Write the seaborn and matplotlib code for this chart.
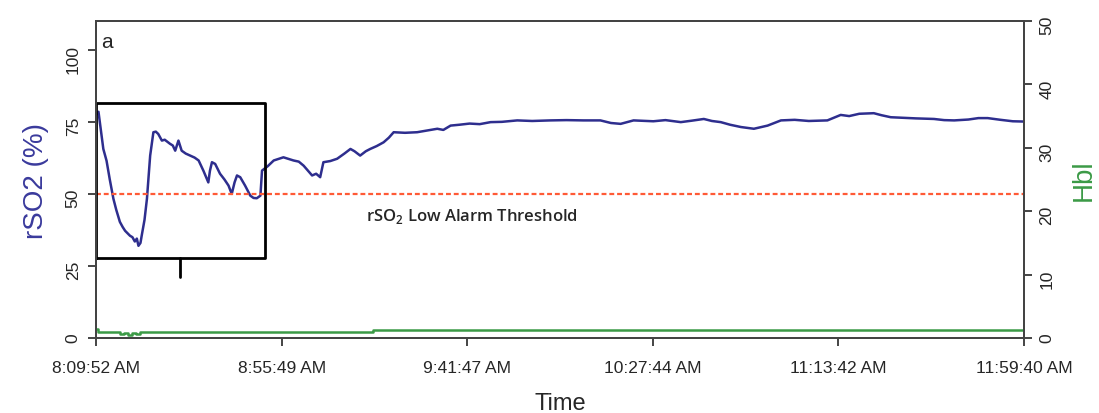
import numpy as np
import matplotlib
matplotlib.use("Agg")
import matplotlib.pyplot as plt
import seaborn as sns

# time in minutes after 8:09:52 AM, rSO2 in %
rso2_min = [0.0, 0.6, 1.2, 1.8, 2.6, 3.4, 4.3, 5.0, 5.9, 6.6, 7.2, 8.4, 9.0, 9.6, 10.1, 10.5,
            11.0, 11.3, 12.0, 12.6, 13.0, 13.4, 14.2, 14.8, 15.4, 16.3, 17.0, 18.3, 19.0,
            19.6, 20.4, 21.2, 22.2, 23.3, 24.4, 25.4, 26.6, 27.8, 28.2, 28.7, 29.5, 30.7,
            31.8, 32.8, 33.6, 34.3, 34.9, 35.7, 36.9, 38.2, 39.0, 39.8, 40.7, 41.1, 42.5,
            44.0, 46.4, 48.9, 50.2, 51.4, 53.5, 54.5, 55.5, 56.3, 58.0, 59.7, 61.5, 63.0,
            64.0, 65.4, 66.8, 67.9, 69.5, 71.2, 72.5, 73.7, 76.5, 79.5, 82.0, 84.5, 86.0,
            87.8, 90.0, 92.5, 95.0, 97.7, 100.5, 104.3, 108.0, 112.5, 116.5, 120.7, 124.9,
            127.5, 129.9, 133.1, 138.0, 141.0, 144.8, 147.5, 150.5, 152.5, 154.7, 157.0,
            159.7, 162.9, 166.3, 169.6, 173.0, 176.5, 181.1, 184.4, 186.5, 189.0, 192.6,
            194.5, 196.8, 200.0, 203.0, 207.5, 210.0, 212.5, 216.0, 218.5, 220.8, 224.0,
            227.0, 229.8]
rso2_val = [77.5, 78.5, 72.0, 65.6, 61.5, 55.0, 48.3, 44.5, 40.3, 38.5, 37.2, 35.5, 35.0, 33.5,
            34.5, 32.0, 33.0, 35.5, 41.0, 48.3, 56.0, 63.3, 71.4, 71.6, 70.8, 68.5, 68.8,
            67.4, 66.8, 65.0, 68.5, 65.0, 64.0, 63.3, 62.6, 61.6, 58.0, 54.0, 58.0, 61.0,
            60.4, 57.0, 55.0, 52.9, 50.0, 54.0, 56.4, 55.8, 52.9, 49.4, 48.6, 48.5, 49.4,
            58.1, 59.6, 61.6, 62.7, 61.6, 61.2, 59.8, 56.4, 57.0, 55.8, 61.0, 61.4, 62.2,
            64.0, 65.6, 64.8, 63.3, 64.8, 65.6, 66.6, 67.9, 69.5, 71.4, 71.2, 71.4, 72.0,
            72.6, 72.2, 73.7, 74.0, 74.4, 74.2, 74.9, 75.0, 75.5, 75.3, 75.5, 75.6, 75.5,
            75.5, 74.6, 74.3, 75.5, 75.2, 75.6, 74.9, 75.4, 76.0, 75.3, 74.9, 74.0, 73.2,
            72.6, 73.7, 75.5, 75.7, 75.3, 75.5, 77.4, 77.0, 77.8, 78.0, 77.3, 76.6, 76.4,
            76.2, 76.0, 75.6, 75.5, 75.8, 76.3, 76.3, 75.7, 75.2, 75.1]

# Hbl on the right axis
hbl_min = [0.0, 0.5, 5.0, 6.0, 7.0, 8.0, 9.0, 10.0, 11.0, 14.0, 68.4, 68.6, 229.8]
hbl_val = [1.4, 1.0, 0.9, 0.6, 0.8, 0.5, 0.8, 0.6, 0.9, 1.0, 0.9, 1.2, 1.2]

threshold = 50
x_ticklabels = ["8:09:52 AM", "8:55:49 AM", "9:41:47 AM", "10:27:44 AM", "11:13:42 AM", "11:59:40 AM"]
total_min = 229.8

sns.set_style("ticks")
plt.rcParams["font.family"] = ["Liberation Sans", "DejaVu Sans"]

fig = plt.figure(figsize=(10.99, 4.14), dpi=100)
ax = fig.add_axes([0.0874, 0.181, 0.8444, 0.766])

blue = "#2e2e8e"
green = "#3b9a46"
sns.lineplot(x=rso2_min, y=rso2_val, ax=ax, color=blue, lw=1.8, estimator=None, sort=False)
ax.axhline(threshold, color="#ff5a36", lw=1.6, ls=(0, (2.2, 1.3)))

ax.set_xlim(0, total_min)
ax.set_ylim(0, 110)
ax.set_xticks(np.linspace(0, total_min, len(x_ticklabels)))
ax.set_xticklabels(x_ticklabels)
ax.set_yticks([0, 25, 50, 75, 100])
ax.set_xlabel("Time", fontsize=17, labelpad=12)
ax.set_ylabel("rSO2 (%)", fontsize=20, color="#3a3a9c", labelpad=12)

ax2 = ax.twinx()
sns.lineplot(x=hbl_min, y=hbl_val, ax=ax2, color=green, lw=1.8, estimator=None,
             drawstyle="steps-post")
ax2.set_ylim(0, 50)
ax2.set_yticks([0, 10, 20, 30, 40, 50])
ax2.set_ylabel("Hbl", fontsize=20, color=green, labelpad=12)

for a in (ax, ax2):
    for s in a.spines.values():
        s.set_color("#444444")
        s.set_linewidth(1.4)
    a.tick_params(axis="both", direction="out", length=6, width=1.4, color="#444444",
                  labelsize=12.5, pad=5)
    a.tick_params(axis="y", labelrotation=90)
ax.tick_params(axis="x", pad=10)

# zoom box on the early desaturation
ax.plot([0, 41.9, 41.9, 0, 0], [27.8, 27.8, 81.6, 81.6, 27.8], color="black", lw=2,
        clip_on=False)
ax.plot([20.8, 20.8], [27.8, 21.2], color="black", lw=2)

ax.text(0.006, 0.965, "a", transform=ax.transAxes, fontsize=15, va="top", ha="left")
ax.text(93, 42.5, "rSO$_\\mathregular{2}$ Low Alarm Threshold", fontsize=12,
        fontfamily="Open Sans", fontweight="semibold", ha="center", va="center")

fig.savefig("out.png", dpi=100)
